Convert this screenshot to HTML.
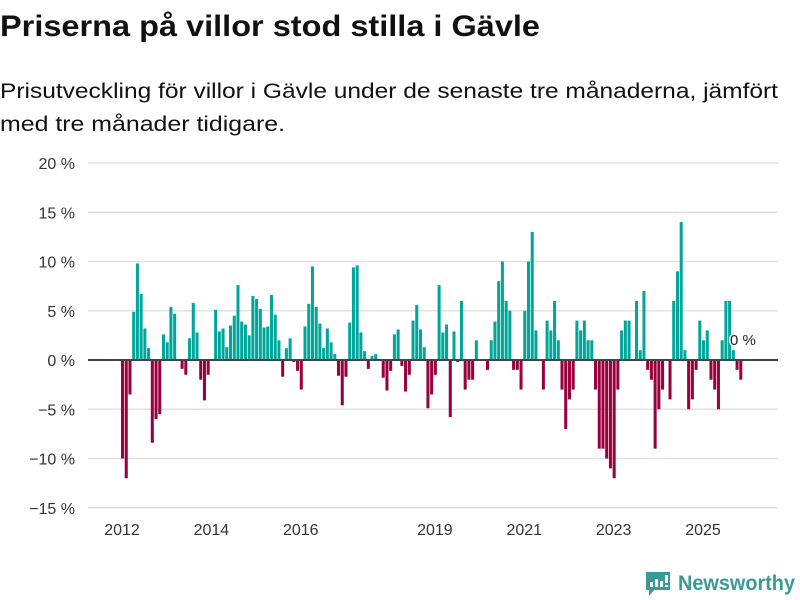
<!DOCTYPE html>
<html><head><meta charset="utf-8"><style>
html,body{margin:0;padding:0;background:#fff;width:800px;height:600px;overflow:hidden}
svg{display:block;font-family:"Liberation Sans",sans-serif}
</style></head><body>
<svg id="chart" width="800" height="600" viewBox="0 0 800 600">
<text x="0" y="36" font-size="30" font-weight="bold" fill="#111" textLength="540" lengthAdjust="spacingAndGlyphs">Priserna på villor stod stilla i Gävle</text>
<text x="0" y="98" font-size="21" fill="#111" textLength="778" lengthAdjust="spacingAndGlyphs">Prisutveckling för villor i Gävle under de senaste tre månaderna, jämfört</text>
<text x="0" y="131" font-size="21" fill="#111" textLength="285" lengthAdjust="spacingAndGlyphs">med tre månader tidigare.</text>
<g id="grid"></g>
<g id="bars"></g>
<g id="xaxis"></g>
<text x="730" y="345" font-size="15" fill="#222" stroke="#fff" stroke-width="3" paint-order="stroke">0 %</text>
<g>
<path d="M646 572 h24 v18 h-16 l-5 6 v-6 h-3 z" fill="#3a9b94"/>
<rect x="650" y="582" width="3" height="5" fill="#fff"/><rect x="655" y="579" width="3" height="8" fill="#fff"/><rect x="660" y="581" width="3" height="6" fill="#fff"/><rect x="665" y="575" width="3" height="8" fill="#fff"/><rect x="665" y="585" width="3" height="2" fill="#fff"/>
<text x="678" y="590" font-size="21" font-weight="bold" fill="#3a9b94" textLength="117" lengthAdjust="spacingAndGlyphs">Newsworthy</text>
</g>
</svg>
<script>
const values = [-10,-12,-3.5,4.9,9.8,6.7,3.2,1.2,-8.4,-6,-5.5,2.6,1.8,5.4,4.7,0,-0.9,-1.5,2.2,5.8,2.8,-2,-4.1,-1.5,0,5.1,2.9,3.2,1.3,3.5,4.5,7.6,3.9,3.6,2.5,6.5,6.2,5.2,3.3,3.4,6.6,4.6,2,-1.7,1.2,2.2,-0.2,-1.1,-3,3.4,5.7,9.5,5.4,3.7,1.2,3.2,1.8,0.6,-1.6,-4.6,-1.7,3.8,9.4,9.6,2.8,0.9,-0.9,0.4,0.6,0,-1.8,-3.1,-1.1,2.6,3.1,-0.6,-3.2,-1.5,4,5.6,3.1,1.3,-4.9,-3.5,-1.5,7.6,2.8,3.6,-5.8,2.9,-0.2,6,-3,-2,-2,2,0,0,-1,2,3.9,8,10,6,5,-1,-1,-3,5,10,13,3,0,-3,4,3,6,2,-3,-7,-4,-3,4,3,4,2,2,-3,-9,-9,-10,-11,-12,-3,3,4,4,0,6,1,7,-1,-2,-9,-5,-3,0,-4,6,9,14,1,-5,-4,-1,4,2,3,-2,-3,-5,2,6,6,1,-1,-2];
const yTicks = [20,15,10,5,0,-5,-10,-15];
const yTickLabels = ["20 %","15 %","10 %","5 %","0 %","\u22125 %","\u221210 %","\u221215 %"];
const xTickLabels = ["2012","2014","2016","2019","2021","2023","2025"];
const xTickIndex = [0,24,48,84,108,132,156];

const NS="http://www.w3.org/2000/svg";
const plotL=88, plotR=778, barL=121, barR=743;
const y0=360, pxPerPct=9.85;
function yScale(v){return y0 - v*pxPerPct;}
const step=(barR-barL)/values.length;
function xScale(i){return barL + i*step;}

const grid=document.getElementById('grid');
yTicks.forEach((t,k)=>{
  const l=document.createElementNS(NS,'line');
  l.setAttribute('x1',plotL);l.setAttribute('x2',plotR);
  l.setAttribute('y1',yScale(t));l.setAttribute('y2',yScale(t));
  l.setAttribute('stroke','#e1e1e1');l.setAttribute('stroke-width','1.5');
  
  
  grid.appendChild(l);
  const tx=document.createElementNS(NS,'text');
  tx.setAttribute('x',75);tx.setAttribute('y',yScale(t)+6);
  tx.setAttribute('text-anchor','end');tx.setAttribute('font-size','16');tx.setAttribute('fill','#333');
  tx.textContent=yTickLabels[k];
  
  
  grid.appendChild(tx);
});
const bars=document.getElementById('bars');
values.forEach((v,i)=>{
  if(v===0) return;
  const r=document.createElementNS(NS,'rect');
  const top=Math.min(yScale(v),y0), h=Math.abs(yScale(v)-y0);
  r.setAttribute('x',xScale(i));r.setAttribute('width',step-0.7);
  r.setAttribute('y',top);r.setAttribute('height',h);
  r.setAttribute('fill',v>0?'#00a69a':'#99003c');
  
  
  bars.appendChild(r);
});
const zl=document.createElementNS(NS,'line');
zl.setAttribute('x1',plotL);zl.setAttribute('x2',plotR);zl.setAttribute('y1',y0);zl.setAttribute('y2',y0);
zl.setAttribute('stroke','#444');zl.setAttribute('stroke-width','2');


bars.appendChild(zl);
const xa=document.getElementById('xaxis');
xTickLabels.forEach((lab,k)=>{
  const tx=document.createElementNS(NS,'text');
  tx.setAttribute('x',xScale(xTickIndex[k])+1);tx.setAttribute('y',535);
  tx.setAttribute('text-anchor','middle');tx.setAttribute('font-size','16');tx.setAttribute('fill','#333');
  tx.textContent=lab;
  
  
  xa.appendChild(tx);
});
</script>
</body></html>
